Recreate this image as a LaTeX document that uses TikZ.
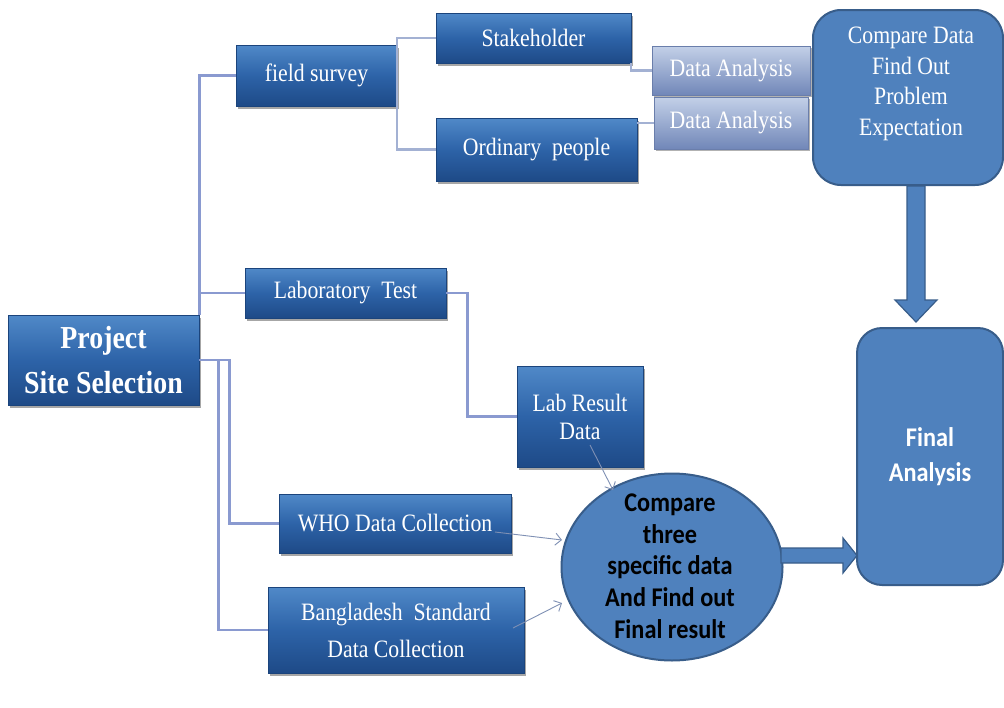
\documentclass[tikz,border=0pt]{standalone}
\usepackage{fontspec}
\setmainfont{Liberation Serif}[FakeStretch=0.87]
\newfontfamily\calibri{Carlito}[FakeStretch=0.9]
\usetikzlibrary{shadows,shapes.geometric,arrows.meta}
\definecolor{boxtop}{HTML}{5089C8}
\definecolor{boxmid}{HTML}{2D63A8}
\definecolor{boxbot}{HTML}{1E4A87}
\definecolor{boxline}{HTML}{1B447C}
\definecolor{datop}{HTML}{C3D0E8}
\definecolor{dabot}{HTML}{7187B8}
\definecolor{daline}{HTML}{6A7EAB}
\definecolor{flatblue}{HTML}{4F81BD}
\definecolor{flatline}{HTML}{385D8A}
\definecolor{linkblue}{HTML}{8A9AD0}
\definecolor{linklight}{HTML}{A3B1D3}
\definecolor{arrowgray}{HTML}{7F90B4}
\begin{document}
\begin{tikzpicture}[x=1pt,y=-1pt,
  bluebox/.style={rectangle,draw=boxline,line width=0.6pt,top color=boxtop,bottom color=boxbot,middle color=boxmid,
    text=white,align=center,inner sep=0pt,font=\fontsize{25}{30}\selectfont,
    drop shadow={shadow xshift=1.5pt,shadow yshift=-2.5pt,opacity=.35,fill=black}},
  dabox/.style={rectangle,draw=daline,line width=0.6pt,top color=datop,bottom color=dabot,
    text=white,align=center,inner sep=0pt,font=\fontsize{25}{30}\selectfont,
    drop shadow={shadow xshift=1.5pt,shadow yshift=-2pt,opacity=.3,fill=black}},
  flatbox/.style={rectangle,rounded corners=28pt,fill=flatblue,draw=flatline,line width=2pt,
    text=white,align=center,inner sep=0pt},
  link/.style={draw=linkblue,line width=2.6pt},
  linkl/.style={draw=linklight,line width=2.2pt},
  thinarrow/.style={draw=arrowgray,line width=0.9pt,-{Straight Barb[length=6pt,width=12pt]}},
  blockarrow/.style={fill=flatblue,draw=flatline,line width=1.2pt,line join=miter}
]
\useasboundingbox (0,0) rectangle (1004,707);
\fill[white] (0,0) rectangle (1004,707);

% nodes
\node[bluebox,minimum width=191pt,minimum height=90pt,font=\bfseries\fontsize{32}{45}\selectfont] (proj) at (103.5,360) {Project\\Site Selection};
\node[bluebox,minimum width=161pt,minimum height=61pt] (field) at (316.5,75.5) {field survey};
\node[bluebox,minimum width=195pt,minimum height=50pt] (stake) at (533.5,38) {Stakeholder};
\node[bluebox,minimum width=201pt,minimum height=63pt] (ord) at (536.5,149.5) {Ordinary\ \ people};
\node[dabox,minimum width=158pt,minimum height=49pt] (da1) at (731,70.5) {Data Analysis};
\node[dabox,minimum width=154pt,minimum height=52pt] (da2) at (731,123) {Data Analysis};
\node[flatbox,minimum width=190pt,minimum height=175pt] (cmp) at (908,97.5) {};
\node[text=white,align=center,font=\fontsize{25}{30.5}\selectfont] (cmptext) at (911,84) {Compare Data\\Find Out\\Problem\\Expectation};
\node[bluebox,minimum width=201pt,minimum height=50pt] (labt) at (345.5,293) {Laboratory\ \ Test};
\node[bluebox,minimum width=126pt,minimum height=101pt,font=\fontsize{25}{28}\selectfont] (labres) at (580,416.5) {Lab Result\\Data};
\node[bluebox,minimum width=232pt,minimum height=59pt] (who) at (395,523.5) {WHO Data Collection};
\node[bluebox,minimum width=256pt,minimum height=86pt,font=\fontsize{25}{37}\selectfont] (bd) at (396,630) {Bangladesh\ \ Standard\\Data Collection};
\node[ellipse,fill=flatblue,draw=flatline,line width=2pt,minimum width=221pt,minimum height=187pt,inner sep=0pt] (circ) at (672,567) {};
\node[align=center,text=black,font=\calibri\bfseries\fontsize{27}{31.7}\selectfont] (circtext) at (670,566) {Compare\\three\\specific data\\And Find out\\Final result};
\node[flatbox,rounded corners=25pt,minimum width=146pt,minimum height=257pt,font=\calibri\bfseries\fontsize{27}{35}\selectfont] (final) at (930,456.5) {Final\\Analysis};

% connectors from project
\draw[link] (proj.north east) |- (field.west);
\draw[link] (proj.north east |- labt.west) -- (labt.west);
\draw[link] (proj.east) -- ++(30,0) |- (who.west);
\draw[link] (proj.east) -- ++(19,0) |- (bd.west);
\draw[linkl] (stake.west) -| (field.east) |- (ord.west);
\draw[linkl] (stake.south east) |- (da1.west);
\draw[linkl] (ord.east |- da2.west) -- (da2.west);
\draw[link] (labt.east) -- ++(21,0) |- (labres.west);

% thin arrows into the circle
\coordinate (labout) at (590,445);
\coordinate (labin) at (613,490);
\coordinate (whoout) at (495,532);
\coordinate (whoin) at (562,540);
\coordinate (bdout) at (513,628);
\coordinate (bdin) at (562,603);
\draw[thinarrow] (labout) -- (labin);
\draw[thinarrow] (whoout) -- (whoin);
\draw[thinarrow] (bdout) -- (bdin);

% block arrows
\draw[blockarrow] (907,186) -- (925,186) -- (925,300) -- (937,300) -- (916,322) -- (895,300) -- (907,300) -- cycle;
\draw[blockarrow] (781,548) -- (843,548) -- (843,538) -- (857,555.5) -- (843,573) -- (843,563) -- (781,563) -- cycle;
\end{tikzpicture}
\end{document}
